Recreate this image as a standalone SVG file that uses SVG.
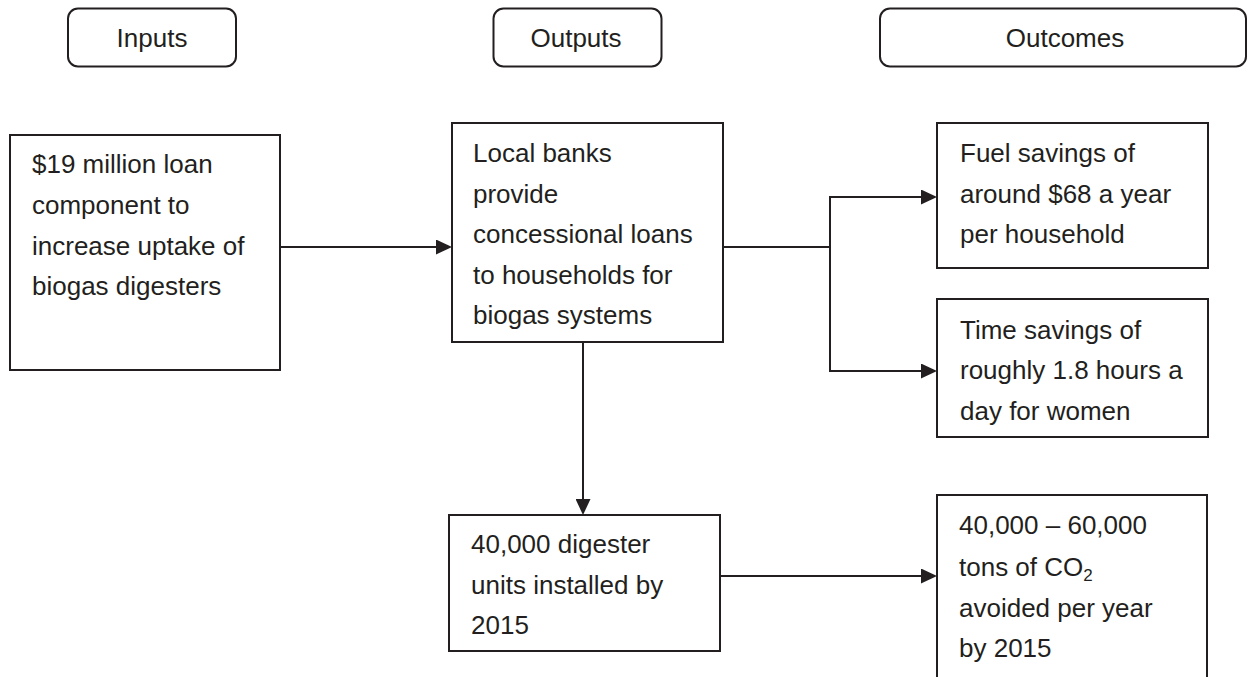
<svg xmlns="http://www.w3.org/2000/svg" width="1248" height="677" viewBox="0 0 1248 677">
  <style>
    .box { fill: #ffffff; stroke: #231f20; stroke-width: 2; }
    .hdr { fill: #ffffff; stroke: #231f20; stroke-width: 2; }
    .txt { font-family: "Liberation Sans", Arial, sans-serif; font-size: 26px; fill: #231f20; }
    .ctr { text-anchor: middle; }
    .conn { fill: none; stroke: #231f20; stroke-width: 2; }
  </style>
  <defs>
    <marker id="arrow" markerUnits="userSpaceOnUse" markerWidth="16" markerHeight="15" refX="2" refY="7.5" orient="auto">
      <path d="M0,0 L16,7.5 L0,15 Z" fill="#231f20"/>
    </marker>
  </defs>
  <rect width="1248" height="677" fill="#ffffff"/>

  <g id="hdr-inputs">
    <rect class="hdr" x="68" y="8.5" width="168" height="58" rx="10" ry="10"/>
    <text class="txt ctr" x="152" y="47">Inputs</text>
  </g>
  <g id="hdr-outputs">
    <rect class="hdr" x="493.5" y="8.5" width="168" height="58" rx="10" ry="10"/>
    <text class="txt ctr" x="576" y="47">Outputs</text>
  </g>
  <g id="hdr-outcomes">
    <rect class="hdr" x="880" y="8.5" width="366" height="58" rx="10" ry="10"/>
    <text class="txt ctr" x="1065" y="47">Outcomes</text>
  </g>

  <g id="connectors">
    <line class="conn" x1="280" y1="247" x2="438" y2="247" marker-end="url(#arrow)"/>
    <polyline class="conn" points="723,247 830,247"/>
    <line class="conn" x1="830" y1="197" x2="830" y2="371"/>
    <line class="conn" x1="829" y1="197" x2="923" y2="197" marker-end="url(#arrow)"/>
    <line class="conn" x1="829" y1="371" x2="923" y2="371" marker-end="url(#arrow)"/>
    <line class="conn" x1="583" y1="342" x2="583" y2="501" marker-end="url(#arrow)"/>
    <line class="conn" x1="720" y1="576" x2="923" y2="576" marker-end="url(#arrow)"/>
  </g>

  <g id="node-input">
    <rect class="box" x="10" y="135" width="270" height="235"/>
    <text class="txt" x="32" y="173">$19 million loan</text>
    <text class="txt" x="32" y="214">component to</text>
    <text class="txt" x="32" y="255">increase uptake of</text>
    <text class="txt" x="32" y="295">biogas digesters</text>
  </g>

  <g id="node-output">
    <rect class="box" x="452" y="123" width="271" height="219"/>
    <text class="txt" x="473" y="162">Local banks</text>
    <text class="txt" x="473" y="202.5">provide</text>
    <text class="txt" x="473" y="243">concessional loans</text>
    <text class="txt" x="473" y="283.5">to households for</text>
    <text class="txt" x="473" y="324">biogas systems</text>
  </g>

  <g id="node-fuel">
    <rect class="box" x="937" y="123" width="271" height="145"/>
    <text class="txt" x="960" y="162">Fuel savings of</text>
    <text class="txt" x="960" y="202.5">around $68 a year</text>
    <text class="txt" x="960" y="243">per household</text>
  </g>

  <g id="node-time">
    <rect class="box" x="937" y="299" width="271" height="138"/>
    <text class="txt" x="960" y="338.5">Time savings of</text>
    <text class="txt" x="960" y="379">roughly 1.8 hours a</text>
    <text class="txt" x="960" y="419.5">day for women</text>
  </g>

  <g id="node-digester">
    <rect class="box" x="449" y="515" width="271" height="136"/>
    <text class="txt" x="471" y="553">40,000 digester</text>
    <text class="txt" x="471" y="593.5">units installed by</text>
    <text class="txt" x="471" y="634">2015</text>
  </g>

  <g id="node-co2">
    <rect class="box" x="937" y="495" width="270" height="200"/>
    <text class="txt" x="959" y="534">40,000 – 60,000</text>
    <text class="txt" x="959" y="575.5">tons of CO<tspan font-size="17" dy="5">2</tspan></text>
    <text class="txt" x="959" y="616.5">avoided per year</text>
    <text class="txt" x="959" y="657">by 2015</text>
  </g>
</svg>
